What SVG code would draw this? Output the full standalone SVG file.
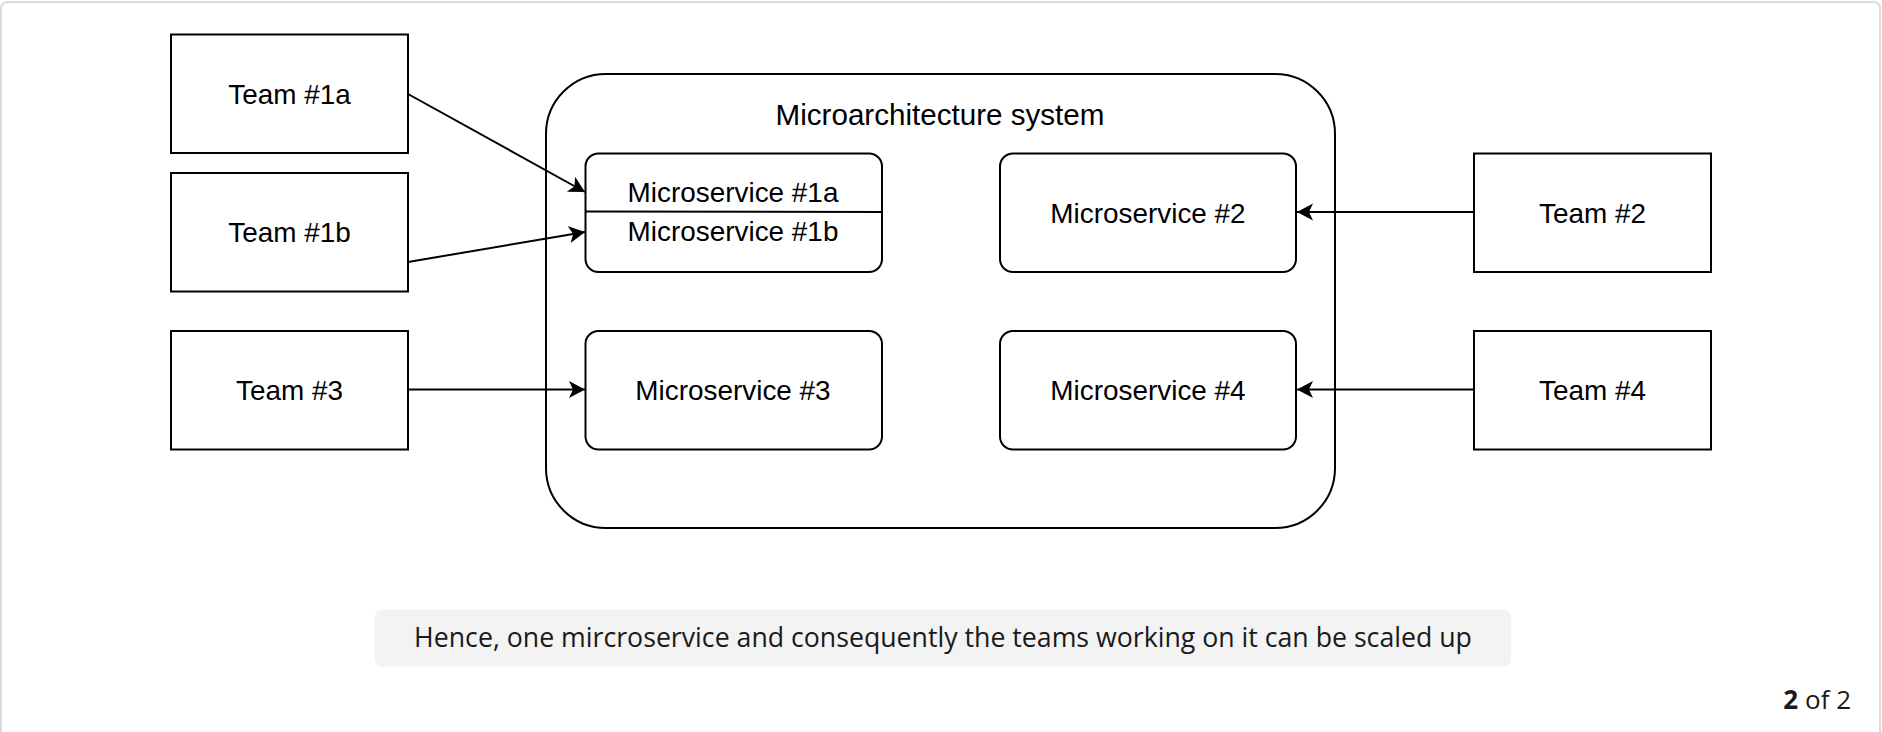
<svg xmlns="http://www.w3.org/2000/svg" width="1882" height="732" viewBox="0 0 1882 732">
<defs>
<marker id="arr" markerUnits="userSpaceOnUse" markerWidth="20" markerHeight="20" refX="16" refY="8.5" orient="auto" viewBox="0 0 20 17">
<path d="M0,0 L16,8.5 L0,17 L4,8.5 Z" fill="#000"/>
</marker>
</defs>
<style>
.box{fill:#fff;stroke:#000;stroke-width:2}
.t{font-family:"Liberation Sans",Arial,Helvetica,sans-serif;font-size:27.9px;fill:#000;text-anchor:middle}
.ln{stroke:#000;stroke-width:2;fill:none;marker-end:url(#arr)}
.cap{font-family:"Open Sans","Noto Sans",sans-serif;font-size:26px;fill:#1a1a1a}
</style>
<rect x="0" y="0" width="1882" height="732" fill="#fff"/>
<rect x="1" y="2" width="1879" height="760" rx="6" fill="#fff" stroke="#d9d9de" stroke-width="2"/>
<g id="container">
<rect class="box" x="546" y="74" width="789" height="454" rx="60"/>
<text class="t" x="940" y="125" style="font-size:29.6px">Microarchitecture system</text>
</g>
<g id="ms1">
<rect class="box" x="585.5" y="153.5" width="296.5" height="118.5" rx="13"/>
<line x1="585.5" y1="211.5" x2="882" y2="212" stroke="#000" stroke-width="2"/>
<text class="t" x="733" y="202">Microservice #1a</text>
<text class="t" x="733" y="241">Microservice #1b</text>
</g>
<g id="ms2">
<rect class="box" x="1000" y="153.5" width="296" height="118.5" rx="13"/>
<text class="t" x="1148" y="222.5">Microservice #2</text>
</g>
<g id="ms3">
<rect class="box" x="585.5" y="331" width="296.5" height="118.5" rx="13"/>
<text class="t" x="733" y="400">Microservice #3</text>
</g>
<g id="ms4">
<rect class="box" x="1000" y="331" width="296" height="118.5" rx="13"/>
<text class="t" x="1148" y="400">Microservice #4</text>
</g>
<g id="team1a">
<rect class="box" x="171" y="34.5" width="237" height="118.5"/>
<text class="t" x="289.5" y="103.5">Team #1a</text>
</g>
<g id="team1b">
<rect class="box" x="171" y="173" width="237" height="118.5"/>
<text class="t" x="289.5" y="242">Team #1b</text>
</g>
<g id="team3">
<rect class="box" x="171" y="331" width="237" height="118.5"/>
<text class="t" x="289.5" y="400">Team #3</text>
</g>
<g id="team2">
<rect class="box" x="1474" y="153.5" width="237" height="118.5"/>
<text class="t" x="1592.5" y="222.5">Team #2</text>
</g>
<g id="team4">
<rect class="box" x="1474" y="331" width="237" height="118.5"/>
<text class="t" x="1592.5" y="400">Team #4</text>
</g>
<g id="connectors">
<line class="ln" x1="408" y1="94" x2="585" y2="192"/>
<line class="ln" x1="408" y1="262" x2="585" y2="232"/>
<line class="ln" x1="408" y1="389.5" x2="585" y2="389.5"/>
<line class="ln" x1="1474" y1="212" x2="1297" y2="212"/>
<line class="ln" x1="1474" y1="389.5" x2="1297" y2="389.5"/>
</g>
<g id="caption">
<rect x="374.5" y="609.5" width="1136.5" height="57" rx="8" fill="#f3f3f3"/>
<text class="cap" x="943" y="647" text-anchor="middle" style="font-size:26.7px">Hence, one mircroservice and consequently the teams working on it can be scaled up</text>
</g>
<g id="pager">
<text class="cap" x="1851" y="709" text-anchor="end"><tspan font-weight="bold">2</tspan> of 2</text>
</g>
</svg>
